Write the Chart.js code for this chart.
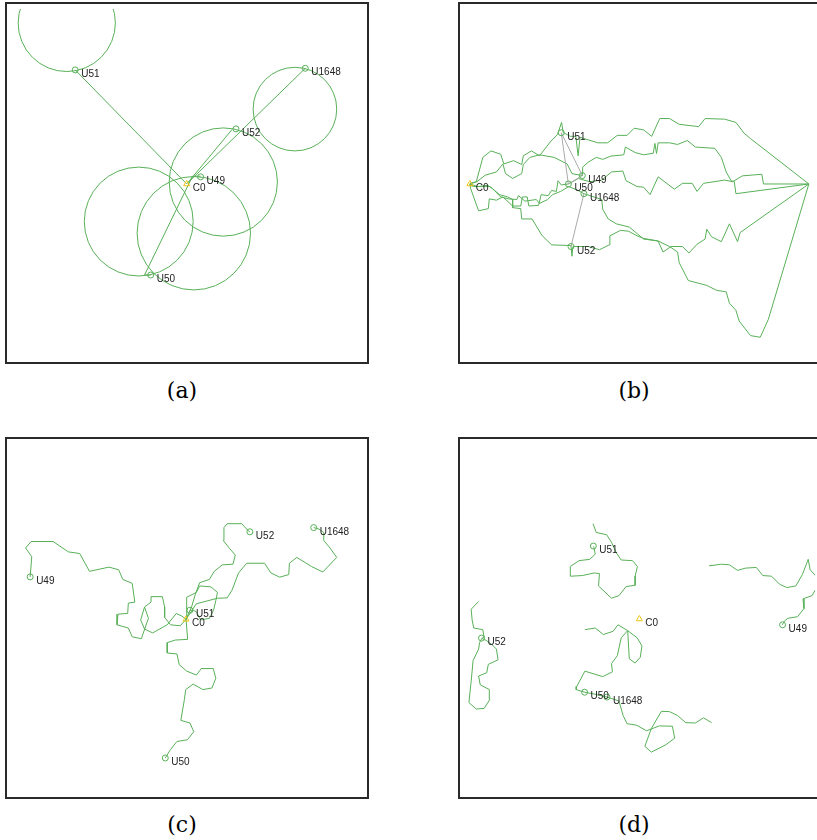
<!DOCTYPE html>
<html><head><meta charset="utf-8">
<script src="https://cdn.jsdelivr.net/npm/chart.js@4.4.1/dist/chart.umd.min.js"></script>
<style>
html,body{margin:0;padding:0;background:#fff;width:817px;height:840px;overflow:hidden;position:relative}
.box{position:absolute;border:2px solid #2a2a2a;width:360px;height:358px;background:#fff}
.box canvas{display:block}
.cap{position:absolute;font-family:"DejaVu Serif",serif;font-size:22px;line-height:22px;color:#000;transform:translate(-50%,-50%);white-space:nowrap}
</style></head><body>
<div class="box" style="left:5px;top:2px"><canvas id="ca" width="360" height="358"></canvas></div>
<div class="box" style="left:458px;top:2px"><canvas id="cb" width="360" height="358"></canvas></div>
<div class="box" style="left:5px;top:437px"><canvas id="cc" width="360" height="358"></canvas></div>
<div class="box" style="left:458px;top:437px"><canvas id="cd" width="360" height="358"></canvas></div>
<div class="cap" style="left:182px;top:391px">(a)</div>
<div class="cap" style="left:634px;top:391px">(b)</div>
<div class="cap" style="left:182px;top:825px">(c)</div>
<div class="cap" style="left:634px;top:825px">(d)</div>
<script>
// ---- shared ----
const NAMES = ['C0','U49','U50','U51','U52','U1648'];

// ---- panel (a) ----
const A_X = [560,603,449,216,712,926];
const A_Y = [552,530,833,200,382,195];
const A_CIRCLE_X = [190,894,673,412,582];
const A_CIRCLE_Y = [55,321,546,668,704];
const A_CIRCLE_R = [150,129,167,168,175];
const A_LINE_1 = [[216,200],[560,552]];
const A_LINE_2 = [[926,195],[562,550]];
const A_LINE_3 = [[700,384],[562,550]];
const A_LINE_4 = [[449,833],[430,833],[578,528],[603,528]];

// ---- panel (b) ----
const B_X = [30,377,334,312,342,382];
const B_Y = [552,526,552,394,745,582];
const B_GRAY_1 = [[377,526],[312,394],[334,552],[377,526]];
const B_GRAY_2 = [[382,582],[342,745]];
const B_PATH_1 = [[30,550],[50,545],[70,470],[95,450],[125,460],[135,490],[165,480],[190,492],[195,465],[220,450],[245,465],[280,420],[300,400],[313,362],[318,393],[340,405],[357,405],[364,465],[370,408],[425,425],[455,425],[485,402],[515,402],[537,380],[566,385],[591,405],[616,350],[646,350],[676,368],[736,375],[756,350],[816,352],[851,362],[876,395],[896,412],[1076,552]];
const B_PATH_2 = [[30,552],[52,545],[77,525],[112,515],[132,490],[140,520],[162,535],[190,520],[195,492],[215,470],[245,462],[290,470],[330,490],[345,520],[377,526],[378,500],[395,485],[420,470],[440,476],[465,466],[505,462],[510,438],[540,455],[566,462],[596,457],[601,427],[606,458],[611,425],[646,425],[671,430],[701,418],[726,438],[786,442],[806,470],[821,515],[836,542],[846,545],[851,582],[1076,552]];
const B_PATH_3 = [[30,552],[32,565],[57,635],[87,628],[90,598],[112,602],[132,592],[162,620],[187,620],[192,592],[207,592],[212,620],[242,618],[250,585],[272,588],[282,572],[297,575],[302,542],[312,555],[334,552],[365,535],[400,545],[437,540],[467,515],[502,512],[512,542],[546,560],[566,562],[586,585],[611,530],[661,568],[686,550],[716,550],[731,575],[751,550],[816,540],[841,545],[871,527],[931,522],[936,552],[1076,552]];
const B_PATH_4 = [[30,552],[55,560],[85,556],[100,566],[125,592],[150,598],[175,600],[180,588],[200,605],[235,600],[245,612],[270,600],[285,585],[310,575],[335,560],[360,570],[382,582],[437,600],[440,630],[457,660],[482,675],[522,685],[546,705],[566,722],[611,728],[626,762],[651,745],[686,745],[706,765],[731,738],[756,722],[761,692],[776,715],[806,730],[831,675],[856,730],[864,702],[1076,552]];
const B_PATH_5 = [[30,556],[42,560],[92,560],[122,585],[147,592],[162,600],[162,625],[187,628],[190,660],[222,660],[252,710],[282,740],[342,742],[345,775],[348,745],[395,745],[430,755],[460,740],[462,712],[495,695],[520,698],[546,712],[566,720],[611,728],[646,745],[671,762],[676,795],[704,850],[761,865],[791,880],[821,885],[831,920],[851,942],[861,975],[896,1020],[926,1025],[951,970],[1076,552]];

// ---- panel (c) ----
const C_X = [558,77,494,570,755,952];
const C_Y = [568,437,996,540,298,285];
const C_PATH_1 = [[77,437],[82,375],[63,348],[80,328],[148,328],[195,360],[230,365],[260,420],[320,407],[350,415],[363,445],[392,457],[400,515],[380,518],[378,550],[348,552],[345,585],[380,595],[392,622],[420,628],[442,565],[430,530],[450,515],[450,498],[485,498],[492,530],[492,562],[510,585],[540,588],[558,568]];
const C_PATH_2 = [[430,530],[418,570],[430,598],[455,610],[500,585],[528,550],[545,558],[558,568]];
const C_PATH_3 = [[558,568],[560,500],[590,485],[600,465],[635,468],[655,485],[650,510],[643,540],[630,565],[603,570],[590,545],[580,540],[570,540]];
const C_PATH_4 = [[558,568],[575,530],[587,490],[600,455],[630,445],[645,420],[670,400],[703,398],[710,370],[693,350],[673,325],[675,285],[685,273],[730,273],[750,295],[755,298]];
const C_PATH_5 = [[558,568],[590,520],[655,503],[685,502],[700,478],[720,425],[745,395],[800,395],[820,425],[847,438],[875,430],[877,395],[900,377],[945,405],[980,422],[1023,377],[1000,345],[983,325],[983,300],[965,288],[952,285]];
const C_PATH_6 = [[558,568],[563,630],[525,632],[500,640],[500,672],[530,675],[537,708],[560,728],[590,740],[605,720],[642,720],[650,750],[638,780],[610,785],[580,768],[557,785],[553,815],[542,880],[570,888],[582,915],[562,940],[530,945],[510,970],[494,996]];

// ---- panel (d) ----
const D_X = [553,995,384,411,66,453];
const D_Y = [567,585,793,342,626,808];
const D_PATH_1 = [[410,273],[420,300],[452,307],[467,330],[482,363],[497,385],[532,387],[547,405],[540,435],[540,463],[512,467],[490,495],[467,503],[427,465],[430,427],[414,425],[377,433],[342,435],[340,405],[367,387],[400,383],[417,367],[412,343]];
const D_PATH_2 = [[57,513],[34,537],[37,570],[42,595],[70,600],[74,623],[67,627],[60,640],[57,660],[40,695],[34,760],[27,825],[50,845],[74,843],[92,815],[90,785],[62,770],[57,743],[82,733],[87,707],[117,693],[112,660],[97,645],[80,633],[67,627]];
const D_PATH_3 = [[385,600],[417,595],[442,615],[472,605],[487,585],[517,603],[522,690],[540,703],[556,685],[561,650],[546,625],[517,603],[497,625],[485,680],[467,705],[470,730],[440,745],[385,728],[360,775],[358,785],[384,793]];
const D_PATH_4 = [[384,793],[420,800],[453,808],[490,820],[503,865],[515,890],[545,895],[575,912],[615,897],[655,898],[662,935],[635,955],[590,978],[570,960],[590,905],[621,852],[646,853],[671,865],[696,887],[726,888],[751,872],[776,887]];
const D_PATH_5 = [[768,403],[806,398],[831,400],[856,417],[881,410],[914,408],[934,433],[961,435],[986,460],[1008,470],[1036,465],[1056,430],[1074,383],[1080,415],[1098,435],[1100,470],[1086,495],[1058,505],[1061,535],[1041,560],[1011,565],[1001,573],[994,585]];

// ---- styling ----
const GREEN = 'rgb(88,176,88)';
const GRAY = 'rgb(170,170,170)';
const YELLOW = 'rgb(240,196,20)';

function pts(arr){ return arr.map(p => ({x:p[0], y:p[1]})); }
function lineDS(arr, color){
  return {data: pts(arr), showLine:true, borderColor: color || GREEN, borderWidth:1,
          pointRadius:0, pointHoverRadius:0, tension:0, fill:false};
}
function markDS(xs, ys){
  return [
    {data: xs.slice(1).map((x,i) => ({x:x, y:ys[i+1]})), labels: NAMES.slice(1), showLine:false,
     pointStyle:'circle', pointRadius:3, pointBorderColor:GREEN, pointBackgroundColor:'rgba(0,0,0,0)', pointBorderWidth:1},
    {data: [{x:xs[0], y:ys[0]}], labels:[NAMES[0]], showLine:false,
     pointStyle:'triangle', pointRadius:3.5, pointBorderColor:YELLOW, pointBackgroundColor:'rgba(0,0,0,0)', pointBorderWidth:1}
  ];
}
const labelPlugin = {
  id:'ptlabels',
  afterDatasetsDraw(chart){
    const ctx = chart.ctx;
    chart.data.datasets.forEach((ds, i) => {
      if (!ds.labels) return;
      const meta = chart.getDatasetMeta(i);
      meta.data.forEach((el, j) => {
        ctx.save();
        ctx.font = '10px "Liberation Sans", Arial, sans-serif';
        ctx.fillStyle = '#222';
        ctx.textBaseline = 'alphabetic';
        ctx.textAlign = 'left';
        ctx.fillText(ds.labels[j], el.x + 6, el.y + 7);
        ctx.restore();
      });
    });
  }
};
function makeChart(id, xr, yr, datasets){
  return new Chart(document.getElementById(id), {
    type:'scatter',
    data:{datasets: datasets},
    options:{
      responsive:false, animation:false, events:[], devicePixelRatio:1,
      layout:{padding:0},
      plugins:{legend:{display:false}, tooltip:{enabled:false}},
      scales:{
        x:{type:'linear', min:xr[0], max:xr[1], display:false},
        y:{type:'linear', min:yr[0], max:yr[1], reverse:true, display:false}
      }
    },
    plugins:[labelPlugin]
  });
}

// (a)
const circleDS = {
  data: A_CIRCLE_X.map((x,i) => ({x:x, y:A_CIRCLE_Y[i], rad:A_CIRCLE_R[i]})),
  showLine:false, pointStyle:'circle', pointBorderColor:GREEN, pointBackgroundColor:'rgba(0,0,0,0)', pointBorderWidth:1,
  pointRadius: ctx => {
    if (!ctx.raw) return 0;
    const s = ctx.chart.scales.x;
    return Math.abs(s.getPixelForValue(ctx.raw.rad) - s.getPixelForValue(0));
  }
};
makeChart('ca', [21,1101], [12,1086], [
  ...markDS(A_X, A_Y),
  lineDS(A_LINE_1), lineDS(A_LINE_2), lineDS(A_LINE_3), lineDS(A_LINE_4),
  circleDS
]);
// (b)
makeChart('cb', [15,1095], [12,1086], [
  ...markDS(B_X, B_Y),
  lineDS(B_GRAY_1, GRAY), lineDS(B_GRAY_2, GRAY),
  lineDS(B_PATH_1), lineDS(B_PATH_2), lineDS(B_PATH_3), lineDS(B_PATH_4), lineDS(B_PATH_5)
]);
// (c)
makeChart('cc', [21,1101], [27,1101], [
  ...markDS(C_X, C_Y),
  lineDS(C_PATH_1), lineDS(C_PATH_2), lineDS(C_PATH_3), lineDS(C_PATH_4), lineDS(C_PATH_5), lineDS(C_PATH_6)
]);
// (d)
makeChart('cd', [15,1095], [27,1101], [
  ...markDS(D_X, D_Y),
  lineDS(D_PATH_1), lineDS(D_PATH_2), lineDS(D_PATH_3), lineDS(D_PATH_4), lineDS(D_PATH_5)
]);
</script>
</body></html>
